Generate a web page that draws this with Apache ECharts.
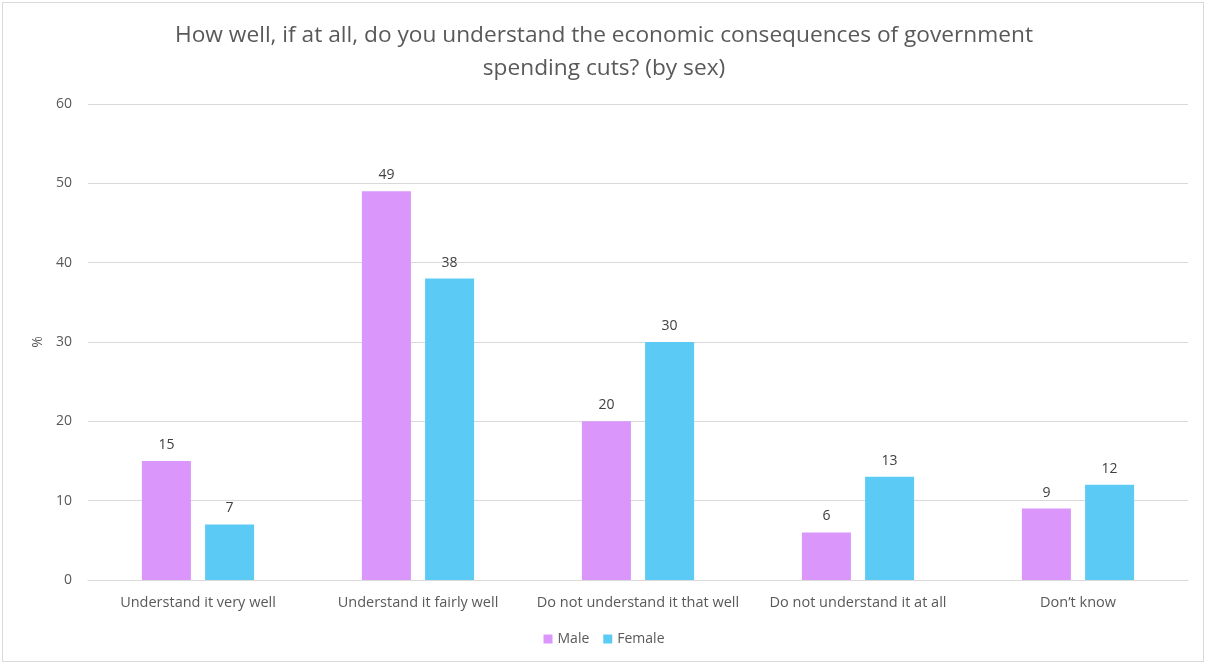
<!DOCTYPE html>
<html>
<head>
<meta charset="utf-8">
<script src="https://cdn.jsdelivr.net/npm/echarts@6/dist/echarts.min.js"></script>
<style>
html,body{margin:0;padding:0;background:#fff;}
#wrap{position:absolute;left:2px;top:2px;width:1202px;height:660px;border:1px solid #d9d9d9;box-sizing:border-box;}
#chart{position:absolute;left:-3px;top:-3px;width:1208px;height:666px;}
</style>
</head>
<body>
<div id="wrap"><div id="chart"></div></div>
<script>
const titleText = 'How well, if at all, do you understand the economic consequences of government\nspending cuts? (by sex)';
const categories = ['Understand it very well', 'Understand it fairly well', 'Do not understand it that well', 'Do not understand it at all', 'Don\u2019t know'];
const maleValues = [15, 49, 20, 6, 9];
const femaleValues = [7, 38, 30, 13, 12];
const yTicks = { min: 0, max: 60, interval: 10 };

const textColor = '#595959';
const font = '"Open Sans", "Noto Sans", sans-serif';
const chart = echarts.init(document.getElementById('chart'), null, { renderer: 'canvas' });
chart.setOption({
  backgroundColor: 'transparent',
  animation: false,
  title: {
    text: titleText,
    left: 'center',
    top: 14,
    textStyle: { color: textColor, fontSize: 22.7, fontWeight: 'normal', fontFamily: font, lineHeight: 33 }
  },
  legend: {
    bottom: 15,
    left: 'center',
    itemWidth: 9,
    itemHeight: 9,
    itemGap: 14,
    icon: 'rect',
    textStyle: { color: textColor, fontSize: 14, fontFamily: font }
  },
  grid: { left: 88, right: 20, top: 104, bottom: 86, containLabel: false },
  xAxis: {
    type: 'category',
    data: categories,
    axisLine: { lineStyle: { color: '#d9d9d9', width: 1 } },
    axisTick: { show: false },
    axisLabel: { color: textColor, fontSize: 14.5, fontFamily: font, margin: 15, interval: 0 }
  },
  yAxis: {
    type: 'value',
    min: yTicks.min,
    max: yTicks.max,
    interval: yTicks.interval,
    name: '%',
    nameLocation: 'middle',
    nameGap: 41,
    nameRotate: 90,
    nameTextStyle: { color: textColor, fontSize: 14, fontFamily: font },
    axisLine: { show: false },
    axisTick: { show: false },
    splitLine: { lineStyle: { color: '#d9d9d9', width: 1 } },
    axisLabel: { color: textColor, fontSize: 14, fontFamily: font, margin: 16 }
  },
  series: [
    {
      name: 'Male',
      type: 'bar',
      data: maleValues,
      barWidth: 49,
      barGap: '29%',
      itemStyle: { color: '#da96fb' },
      label: { show: true, position: 'top', distance: 9, color: '#404040', fontSize: 14, fontFamily: font }
    },
    {
      name: 'Female',
      type: 'bar',
      data: femaleValues,
      barWidth: 49,
      itemStyle: { color: '#5bcbf5' },
      label: { show: true, position: 'top', distance: 9, color: '#404040', fontSize: 14, fontFamily: font }
    }
  ]
});
</script>
</body>
</html>
